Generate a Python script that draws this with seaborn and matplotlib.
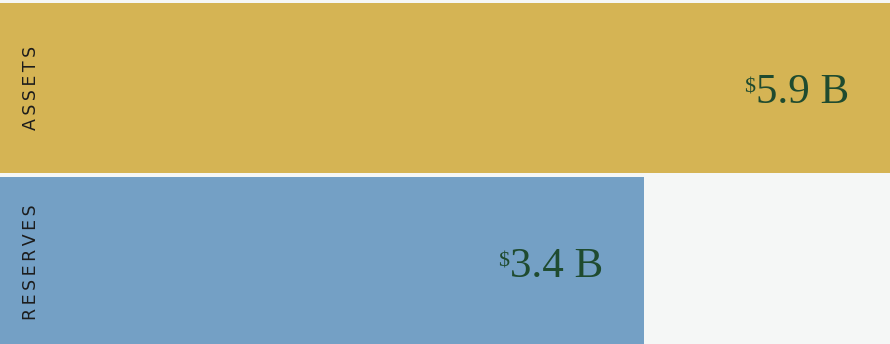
import matplotlib
matplotlib.use("Agg")
import matplotlib.pyplot as plt
from matplotlib.transforms import IdentityTransform
import pandas as pd
import seaborn as sns

# Balance-sheet figures, in billions of dollars
categories = ["ASSETS", "RESERVES"]
values = [5.9, 3.4]
value_labels = ["5.9 B", "3.4 B"]
bar_colors = ["#d5b454", "#74a0c5"]

BG = "#f5f7f6"
VALUE_COLOR = "#1f4b2f"
LABEL_COLOR = "#1c1c1c"

sns.set_theme(style="white")

fig = plt.figure(figsize=(8.9, 3.44), dpi=100, facecolor=BG)
ax = fig.add_axes([0, 0, 1, 1])
ax.set_facecolor(BG)

df = pd.DataFrame({"category": categories, "value": values})
sns.barplot(
    data=df, x="value", y="category", hue="category", palette=bar_colors,
    orient="h", width=0.977, saturation=1, linewidth=0, legend=False, ax=ax,
)

# Horizontal scale: reserves bar ends at ~72% of width, assets runs off the edge
x_max = 4.7
ax.set_xlim(0, x_max)
ax.set_ylim(1.471, -0.506)
ax.set_axis_off()

# Rotated, letter-spaced category names at the left of each bar
for i, cat in enumerate(categories):
    spaced = "\u2009".join(cat)
    ax.annotate(
        spaced, xy=(0, i), xycoords=("axes fraction", "data"),
        xytext=(31, 0), textcoords="offset pixels",
        rotation=90, ha="center", va="center",
        fontsize=12.5, color=LABEL_COLOR, family=["DejaVu Sans"],
    )

# Value labels near the visible end of each bar, with a small raised "$"
value_texts = []
for i, (v, lab) in enumerate(zip(values, value_labels)):
    t = ax.annotate(
        lab, xy=(min(v, x_max), i), xycoords="data",
        xytext=(-41, -15), textcoords="offset pixels",
        ha="right", va="baseline",
        fontsize=31, color=VALUE_COLOR, family=["Liberation Serif"],
    )
    value_texts.append(t)

fig.canvas.draw()
renderer = fig.canvas.get_renderer()
for t in value_texts:
    bb = t.get_window_extent(renderer)
    fig.text(
        bb.x0 - 1, bb.y0 + 20, r"\$", transform=IdentityTransform(),
        ha="right", va="baseline",
        fontsize=16, color=VALUE_COLOR, family=["Liberation Serif"],
    )

fig.savefig("out.png", dpi=100, facecolor=BG)
